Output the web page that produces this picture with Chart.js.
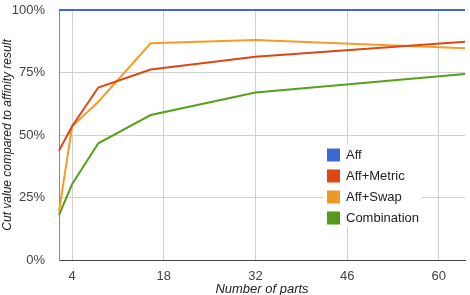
<!DOCTYPE html>
<html>
<head>
<meta charset="utf-8">
<script src="https://cdn.jsdelivr.net/npm/chart.js@4"></script>
<style>
  body { margin: 0; background: #fff; }
  #wrap { width: 470px; height: 295px; }
</style>
</head>
<body>
<div id="wrap"><canvas id="myChart" width="470" height="295"></canvas></div>
<script>
// number of parts on x, cut value in % of the affinity result on y
const parts = [2, 4, 8, 16, 32, 64];
const aff = [100, 100, 100, 100, 100, 100];
const affMetric = [43.7, 53.5, 69, 76.2, 81.3, 87.3];
const affSwap = [19.3, 53.5, 63.3, 86.7, 88, 84.7];
const combination = [18, 30.3, 46.7, 58, 67, 74.4];
const xTicks = [4, 18, 32, 46, 60];
const yTicks = [0, 25, 50, 75, 100];

const names = ['Aff', 'Aff+Metric', 'Aff+Swap', 'Combination'];
const colors = ['#3c68d3', '#dc4713', '#f99b24', '#57a01b'];
const legendColors = ['#3c68d3', '#dc4713', '#eb9a26', '#57991b'];

const toPoints = vals => vals.map((v, i) => ({ x: parts[i], y: v }));

const font = 'Arial, "Liberation Sans", sans-serif';

// legend sits inside the plot, on a white box
const boxLegend = {
    id: 'boxLegend',
    afterDatasetsDraw(chart) {
        const ctx = chart.ctx;
        ctx.save();
        ctx.fillStyle = '#fff';
        ctx.fillRect(323, 145, 99, 82);
        ctx.font = '13px ' + font;
        ctx.textBaseline = 'middle';
        names.forEach((n, i) => {
            const y = 155 + i * 21;
            ctx.fillStyle = legendColors[i];
            ctx.fillRect(327, y - 6.5, 13, 13);
            ctx.fillStyle = '#222';
            ctx.fillText(n, 346, y);
        });
        ctx.restore();
    }
};

const data = {
    datasets: [aff, affMetric, affSwap, combination].map((vals, i) => ({
        label: names[i],
        data: toPoints(vals),
        borderColor: colors[i],
        backgroundColor: colors[i],
        borderWidth: 2,
        pointRadius: 0,
        tension: 0,
        clip: 3
    }))
};

new Chart(document.getElementById('myChart'), {
    type: 'line',
    data: data,
    plugins: [boxLegend],
    options: {
        responsive: false,
        animation: false,
        layout: { padding: { top: 10, right: 5, left: 0, bottom: 0 } },
        plugins: {
            legend: { display: false },
            tooltip: { enabled: false }
        },
        scales: {
            x: {
                type: 'linear',
                min: 2,
                max: 64,
                afterBuildTicks: scale => {
                    scale.ticks = xTicks.map(v => ({ value: v }));
                },
                afterFit: scale => {
                    scale.height = 35;
                    scale.paddingLeft = 0;
                    scale.paddingRight = 0;
                },
                grid: { color: '#d0d0d0', drawTicks: false },
                border: { color: '#444', width: 1 },
                ticks: { color: '#444', padding: 9, font: { family: font, size: 13 } },
                title: {
                    display: true,
                    text: 'Number of parts',
                    color: '#222',
                    padding: { top: 0, bottom: -2 },
                    font: { family: font, size: 13, style: 'italic' }
                }
            },
            y: {
                min: 0,
                max: 100,
                afterBuildTicks: scale => {
                    scale.ticks = yTicks.map(v => ({ value: v }));
                },
                afterFit: scale => {
                    scale.width = 59;
                    scale.paddingTop = 0;
                    scale.paddingBottom = 0;
                },
                grid: { color: '#d0d0d0', drawTicks: false },
                border: { color: '#888', width: 1 },
                ticks: {
                    color: '#444',
                    padding: 14,
                    font: { family: font, size: 13 },
                    callback: v => v + '%'
                },
                title: {
                    display: true,
                    text: 'Cut value compared to affinity result',
                    color: '#222',
                    padding: { top: 0, bottom: 0 },
                    font: { family: font, size: 12, style: 'italic' }
                }
            }
        }
    }
});
</script>
</body>
</html>
